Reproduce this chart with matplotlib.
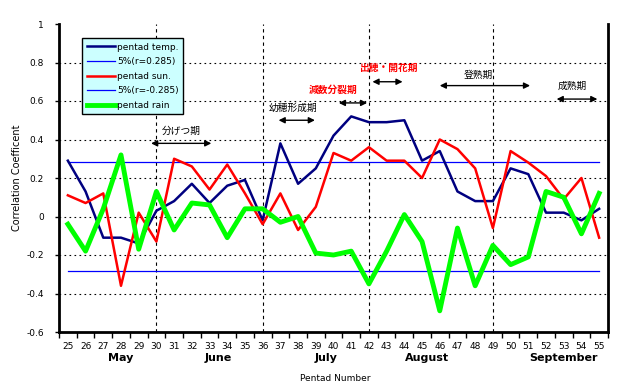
import numpy as np
import matplotlib
matplotlib.use("Agg")
import matplotlib.pyplot as plt

plt.rcParams['font.family'] = ['DejaVu Sans', 'Noto Sans CJK JP']

# pentad correlation data
pentads = list(range(25, 56))
temp = [0.29, 0.13, -0.11, -0.11, -0.14, 0.03, 0.08, 0.17, 0.07, 0.16, 0.19, -0.02,
        0.38, 0.17, 0.25, 0.42, 0.52, 0.49, 0.49, 0.50, 0.29, 0.34, 0.13, 0.08,
        0.08, 0.25, 0.22, 0.02, 0.02, -0.02, 0.04]
sun = [0.11, 0.07, 0.12, -0.36, 0.02, -0.13, 0.30, 0.26, 0.14, 0.27, 0.12, -0.04,
       0.12, -0.07, 0.05, 0.33, 0.29, 0.36, 0.29, 0.29, 0.20, 0.40, 0.35, 0.25,
       -0.06, 0.34, 0.28, 0.21, 0.09, 0.20, -0.11]
rain = [-0.04, -0.18, 0.04, 0.32, -0.17, 0.13, -0.07, 0.07, 0.06, -0.11, 0.04, 0.04,
        -0.03, 0.00, -0.19, -0.20, -0.18, -0.35, -0.18, 0.01, -0.13, -0.49, -0.06, -0.36,
        -0.15, -0.25, -0.21, 0.13, 0.10, -0.09, 0.12]
sig = 0.285

months = ['May', 'June', 'July', 'August', 'September']
month_pos = [28.0, 33.5, 39.6, 45.3, 53.0]
stage_lines = [30, 36, 42, 49]

# growth stages: label, arrow start, arrow end, arrow y, text x, text y, colour
stages = [
    ('分げつ期', 29.7, 33.1, 0.38, 31.4, 0.447, 'black'),
    ('幼穂形成期', 36.9, 38.95, 0.50, 37.7, 0.566, 'black'),
    ('減数分裂期', 40.3, 41.9, 0.59, 40.0, 0.66, 'red'),
    ('出穂・開花期', 42.2, 43.9, 0.70, 43.1, 0.774, 'red'),
    ('登熟期', 46.0, 51.1, 0.68, 48.2, 0.738, 'black'),
    ('成熟期', 52.6, 54.9, 0.61, 53.5, 0.68, 'black'),
]

fig = plt.figure(figsize=(6.25, 3.9), dpi=100)
ax = fig.add_axes([59/625, 1-332/390, 549/625, 308/390])

for g in [0.8, 0.6, 0.4, 0.2, 0, -0.2, -0.4]:
    ax.axhline(g, color='black', lw=0.8, ls=(0, (1.5, 3)), zorder=1)
for v in stage_lines:
    ax.axvline(v, color='black', lw=0.8, ls=(0, (3, 3)), zorder=1)

ax.plot(pentads, temp, color='#000080', lw=1.8, label='pentad temp.', zorder=4)
ax.axhline(sig, xmin=0.5/31, xmax=30.5/31, color='#0000FF', lw=0.9, label='5%(r=0.285)', zorder=3)
ax.plot(pentads, sun, color='#FF0000', lw=1.8, label='pentad sun.', zorder=4)
ax.axhline(-sig, xmin=0.5/31, xmax=30.5/31, color='#0000FF', lw=0.9, label='5%(r=-0.285)', zorder=3)
ax.plot(pentads, rain, color='#00FF00', lw=3.5, label='pentad rain', zorder=5)

for name, x0, x1, ya, xt, yt, c in stages:
    ax.annotate('', xy=(x1, ya), xytext=(x0, ya),
                arrowprops=dict(arrowstyle='<|-|>', color='black', lw=1.0,
                                mutation_scale=9, shrinkA=0, shrinkB=0), zorder=6)
    ax.text(xt, yt, name, ha='center', va='center', fontsize=7, color=c,
            fontweight='bold' if c == 'red' else 'normal',
            family=['Noto Sans CJK JP', 'DejaVu Sans'])

ax.set_xlim(24.5, 55.5)
ax.set_ylim(-0.6, 1.0)
ax.set_xticks(pentads)
ax.set_xticklabels([str(p) for p in pentads], fontsize=6.5)
ax.set_xticks(np.arange(24.5, 55.6, 1), minor=True)
ax.tick_params(axis='x', which='major', length=0, pad=7)
ax.tick_params(axis='x', which='minor', length=4, width=1, direction='out')
ax.set_yticks([1, 0.8, 0.6, 0.4, 0.2, 0, -0.2, -0.4, -0.6])
ax.set_yticklabels(['1', '0.8', '0.6', '0.4', '0.2', '0', '-0.2', '-0.4', '-0.6'], fontsize=6.5)
ax.tick_params(axis='y', length=3, width=1, direction='out', pad=8)

ax.spines['top'].set_visible(False)
for s in ['left', 'bottom', 'right']:
    ax.spines[s].set_linewidth(2)

for m, mp in zip(months, month_pos):
    ax.text(mp, -0.735, m, ha='center', va='center', fontsize=8, fontweight='bold',
            clip_on=False)

ax.text(40.1, -0.84, 'Pentad Number', ha='center', va='center', fontsize=6.5, clip_on=False)
ax.set_ylabel('Correlation Coefficent', fontsize=7, labelpad=3)

leg = ax.legend(loc='upper left', bbox_to_anchor=((82-59)/549, (332-38)/308), fontsize=6.5,
                frameon=True, fancybox=False, handlelength=3.2, handletextpad=0.2,
                borderpad=0.5, labelspacing=0.62, borderaxespad=0)
leg.get_frame().set_facecolor('#CCFFFF')
leg.get_frame().set_edgecolor('black')
leg.get_frame().set_linewidth(1)
leg.get_frame().set_alpha(1)
leg.set_zorder(10)

fig.savefig('out.png', dpi=100)
